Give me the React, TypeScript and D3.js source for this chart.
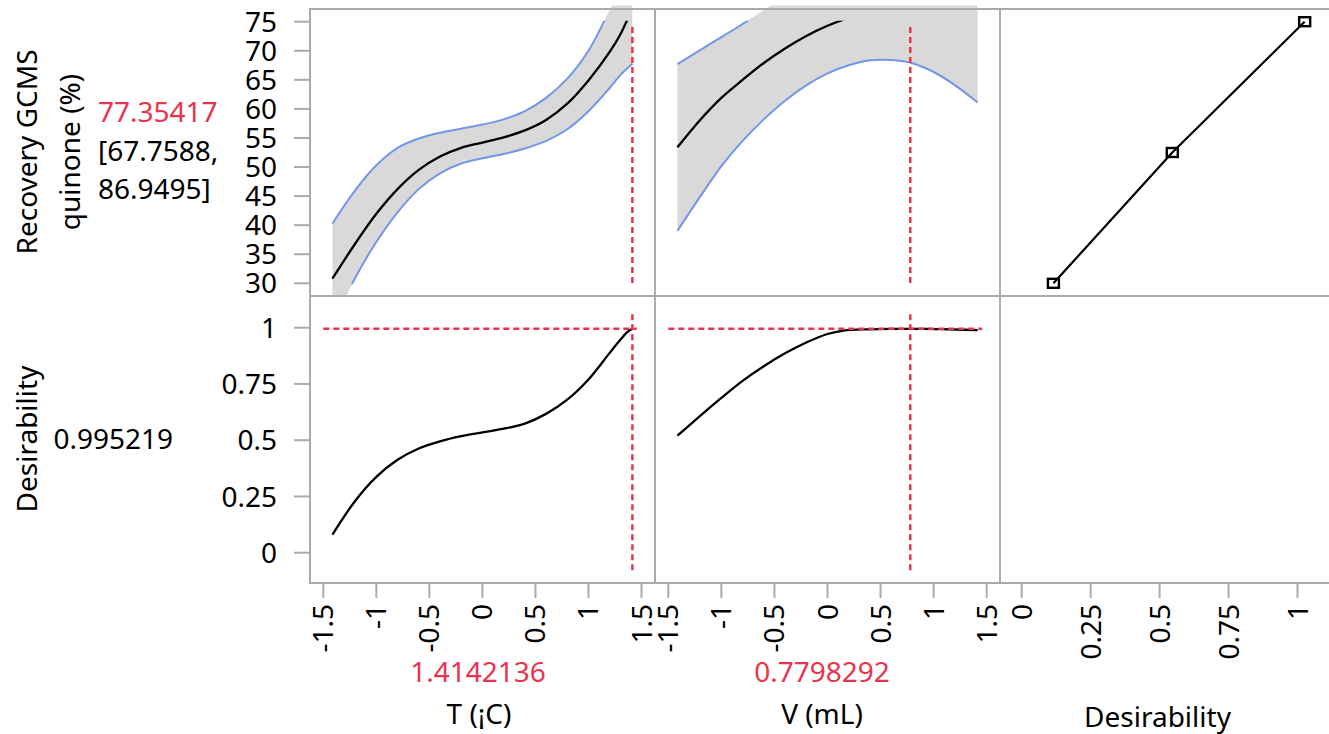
import React from "react";
import * as d3 from "d3";

// ---------- data ----------
const T_X = [-1.414, -1.2, -1.0, -0.8, -0.6, -0.4, -0.2, 0, 0.2, 0.4, 0.6, 0.8, 1.0, 1.2, 1.3, 1.414];
const T_PRED = [30.8, 36.8, 41.95, 46.2, 49.5, 51.8, 53.3, 54.2, 55.1, 56.3, 58.1, 60.9, 64.9, 69.8, 72.8, 77.35];
const T_LOWER = [22.5, 30.9, 37.1, 42.2, 46.2, 48.9, 50.6, 51.5, 52.25, 53.2, 54.5, 56.5, 59.6, 63.6, 65.8, 67.76];
const T_UPPER = [40.3, 46.0, 50.3, 53.3, 54.9, 55.9, 56.6, 57.3, 58.2, 59.6, 61.9, 65.2, 70.0, 77.0, 80.5, 86.95];

const V_X = [-1.414, -1.2, -1.0, -0.8, -0.6, -0.4, -0.2, 0, 0.2, 0.4, 0.6, 0.8, 1.0, 1.2, 1.414];
const V_PRED = [53.4, 58.1, 61.9, 65.0, 67.9, 70.4, 72.55, 74.3, 75.65, 76.6, 77.2, 77.35, 77.1, 76.5, 75.4];
const V_LOWER = [39.0, 44.9, 50.15, 54.5, 58.2, 61.4, 64.05, 66.1, 67.5, 68.35, 68.4, 67.85, 66.35, 64.1, 61.1];
const V_UPPER = [67.7, 70.1, 72.35, 74.6, 77.0, 79.4, 81.05, 82.5, 83.8, 84.85, 86.0, 86.85, 87.85, 88.9, 89.7];

const DT_X = [-1.414, -1.2, -1.0, -0.8, -0.6, -0.4, -0.2, 0, 0.2, 0.4, 0.6, 0.8, 1.0, 1.2, 1.3, 1.36, 1.414];
const DT_D = [0.08, 0.23, 0.337, 0.413, 0.463, 0.495, 0.518, 0.535, 0.551, 0.574, 0.617, 0.68, 0.77, 0.888, 0.946, 0.978, 0.995];

const DV_X = [-1.414, -1.2, -1.0, -0.8, -0.6, -0.4, -0.2, 0, 0.15, 0.4, 0.6, 0.8, 1.0, 1.2, 1.414];
const DV_D = [0.52, 0.608, 0.688, 0.764, 0.829, 0.886, 0.934, 0.972, 0.987, 0.993, 0.995, 0.995, 0.994, 0.992, 0.989];

const DES_D = [0.115, 0.546, 1.026];
const DES_Y = [30, 52.5, 75];

const T_CUR = 1.4142136;
const V_CUR = 0.7798292;
const D_CUR = 0.995219;
const PRED_CUR = "77.35417";
const CI_LINES = ["[67.7588,", "86.9495]"];

const X_TICKS = [-1.5, -1, -0.5, 0, 0.5, 1, 1.5];
const X_TICK_LABELS = ["-1.5", "-1", "-0.5", "0", "0.5", "1", "1.5"];
const Y_TICKS = [30, 35, 40, 45, 50, 55, 60, 65, 70, 75];
const D_TICKS = [0, 0.25, 0.5, 0.75, 1];
const D_TICK_LABELS = ["0", "0.25", "0.5", "0.75", "1"];

// ---------- layout ----------
const W = 1329;
const H = 734;
const FONT = "'Noto Sans', 'Open Sans', sans-serif";
const FS = 28;
const GRID = "#ababab";
const BAND = "#d9d9d9";
const BLUE = "#7197e6";
const RED = "#e8344e";

const xL = 310, xM1 = 655, xM2 = 1000, xR = 1329;
const yT = 9, yM = 296, yB = 583;

const xT = d3.scaleLinear().domain([-1.5, 1.5]).range([323.3, 641.5]);
const xV = d3.scaleLinear().domain([-1.5, 1.5]).range([668.3, 986.7]);
const xD = d3.scaleLinear().domain([0, 1]).range([1021.7, 1297.5]);
const yTop = d3.scaleLinear().domain([30, 75]).range([283.3, 21.7]);
const yBot = d3.scaleLinear().domain([0, 1]).range([552.7, 327.7]);

const zip = (xs: number[], ys: number[]) => xs.map((x, i) => [x, ys[i]] as [number, number]);
const CURVE = d3.curveCatmullRom.alpha(0.5);

export default function App() {
  const lineT = d3.line<[number, number]>().x(d => xT(d[0])).y(d => yTop(d[1])).curve(CURVE);
  const lineV = d3.line<[number, number]>().x(d => xV(d[0])).y(d => yTop(d[1])).curve(CURVE);
  const lineDT = d3.line<[number, number]>().x(d => xT(d[0])).y(d => yBot(d[1])).curve(CURVE);
  const lineDV = d3.line<[number, number]>().x(d => xV(d[0])).y(d => yBot(d[1])).curve(CURVE);
  const areaT = d3.area<number>().x((_, i) => xT(T_X[i])).y0((_, i) => yTop(T_LOWER[i])).y1((_, i) => yTop(T_UPPER[i])).curve(CURVE);
  const areaV = d3.area<number>().x((_, i) => xV(V_X[i])).y0((_, i) => yTop(V_LOWER[i])).y1((_, i) => yTop(V_UPPER[i])).curve(CURVE);
  const lineDes = d3.line<[number, number]>().x(d => xD(d[0])).y(d => yTop(d[1]));

  const yLo = yTop(75), yHi = yTop(30);

  return (
    <svg width={W} height={H} style={{ position: "absolute", left: 0, top: 0, background: "#fff" }} fontFamily={FONT}>
      <defs>
        <clipPath id="bandT"><rect x={xL} y={5.5} width={xM1 - xL} height={yM - 5.5} /></clipPath>
        <clipPath id="bandV"><rect x={xM1} y={5.5} width={xM2 - xM1} height={yM - 5.5} /></clipPath>
        <clipPath id="linesTop"><rect x={xL} y={yLo - 1} width={xM2 - xL} height={yHi - yLo + 2} /></clipPath>
      </defs>

      {/* confidence bands */}
      <path d={areaT(T_X) || ""} fill={BAND} clipPath="url(#bandT)" />
      <path d={areaV(V_X) || ""} fill={BAND} clipPath="url(#bandV)" />

      {/* frame */}
      <g stroke={GRID} strokeWidth={2} fill="none">
        <line x1={xL - 1} x2={xR} y1={yT} y2={yT} />
        <line x1={xL} x2={xR} y1={yM} y2={yM} />
        <line x1={xL - 1} x2={xR} y1={yB} y2={yB} />
        <line x1={xL} x2={xL} y1={yT} y2={yB} />
        <line x1={xM1} x2={xM1} y1={yT} y2={yB} />
        <line x1={xM2} x2={xM2} y1={yT} y2={yB} />
        {Y_TICKS.map(v => <line key={"yt" + v} x1={294} x2={xL} y1={yTop(v)} y2={yTop(v)} />)}
        {D_TICKS.map(v => <line key={"yd" + v} x1={294} x2={xL} y1={yBot(v)} y2={yBot(v)} />)}
        {X_TICKS.map(v => <line key={"xt" + v} x1={xT(v)} x2={xT(v)} y1={yB} y2={598} />)}
        {X_TICKS.map(v => <line key={"xv" + v} x1={xV(v)} x2={xV(v)} y1={yB} y2={598} />)}
        {D_TICKS.map(v => <line key={"xd" + v} x1={xD(v)} x2={xD(v)} y1={yB} y2={598} />)}
      </g>

      {/* top row curves */}
      <g clipPath="url(#linesTop)" fill="none">
        <path d={lineT(zip(T_X, T_LOWER)) || ""} stroke={BLUE} strokeWidth={2} />
        <path d={lineT(zip(T_X, T_UPPER)) || ""} stroke={BLUE} strokeWidth={2} />
        <path d={lineT(zip(T_X, T_PRED)) || ""} stroke="#000" strokeWidth={2.3} />
        <path d={lineV(zip(V_X, V_LOWER)) || ""} stroke={BLUE} strokeWidth={2} />
        <path d={lineV(zip(V_X, V_UPPER)) || ""} stroke={BLUE} strokeWidth={2} />
        <path d={lineV(zip(V_X, V_PRED)) || ""} stroke="#000" strokeWidth={2.3} />
      </g>

      {/* bottom row curves */}
      <path d={lineDT(zip(DT_X, DT_D)) || ""} fill="none" stroke="#000" strokeWidth={2.3} />
      <path d={lineDV(zip(DV_X, DV_D)) || ""} fill="none" stroke="#000" strokeWidth={2.3} />

      {/* desirability function */}
      <path d={lineDes(zip(DES_D, DES_Y)) || ""} fill="none" stroke="#000" strokeWidth={2.2} />
      {DES_D.map((d, i) => (
        <rect key={"sq" + i} x={xD(d) - 5.5} y={yTop(DES_Y[i]) - 4.5} width={11} height={9} fill="none" stroke="#000" strokeWidth={2.4} />
      ))}

      {/* current-value reference lines */}
      <g stroke={RED} strokeWidth={2.5} strokeDasharray="6,4" fill="none">
        <line x1={xT(T_CUR)} x2={xT(T_CUR)} y1={yTop(74.1)} y2={yTop(30)} />
        <line x1={xV(V_CUR)} x2={xV(V_CUR)} y1={yTop(74.1)} y2={yTop(30)} />
        <line x1={xT(T_CUR)} x2={xT(T_CUR)} y1={yBot(1.06)} y2={yBot(-0.08)} />
        <line x1={xV(V_CUR)} x2={xV(V_CUR)} y1={yBot(1.06)} y2={yBot(-0.08)} />
        <line x1={xT(-1.5)} x2={xT(1.455)} y1={yBot(D_CUR)} y2={yBot(D_CUR)} />
        <line x1={xV(-1.5)} x2={xV(1.457)} y1={yBot(D_CUR)} y2={yBot(D_CUR)} />
      </g>

      {/* y tick labels */}
      <g fontSize={FS} fill="#000" textAnchor="end">
        {Y_TICKS.map(v => <text key={"ytl" + v} x={277} y={yTop(v)} dy="0.36em">{v}</text>)}
        {D_TICKS.map((v, i) => <text key={"ydl" + v} x={277} y={yBot(v)} dy="0.36em">{D_TICK_LABELS[i]}</text>)}
      </g>

      {/* x tick labels (rotated) */}
      <g fontSize={FS} fill="#000" textAnchor="end">
        {X_TICKS.map((v, i) => (
          <text key={"xtl" + v} transform={`translate(${xT(v) + 10},604) rotate(-90)`}>{X_TICK_LABELS[i]}</text>
        ))}
        {X_TICKS.map((v, i) => (
          <text key={"xvl" + v} transform={`translate(${xV(v) + 10},604) rotate(-90)`}>{X_TICK_LABELS[i]}</text>
        ))}
        {D_TICKS.map((v, i) => (
          <text key={"xdl" + v} transform={`translate(${xD(v) + 10},604) rotate(-90)`}>{D_TICK_LABELS[i]}</text>
        ))}
      </g>

      {/* left titles and values */}
      <g fontSize={FS} fill="#000">
        <text transform="translate(37,152) rotate(-90)" textAnchor="middle">Recovery GCMS</text>
        <text transform="translate(80,152) rotate(-90)" textAnchor="middle">quinone (%)</text>
        <text transform="translate(37,439) rotate(-90)" textAnchor="middle">Desirability</text>
        <text x={98} y={122} fill={RED}>{PRED_CUR}</text>
        <text x={98} y={160.5}>{CI_LINES[0]}</text>
        <text x={98} y={199}>{CI_LINES[1]}</text>
        <text x={173} y={448.7} textAnchor="end">{D_CUR}</text>
      </g>

      {/* bottom values and titles */}
      <g fontSize={FS} textAnchor="middle">
        <text x={478} y={681.7} fill={RED}>{T_CUR.toFixed(7)}</text>
        <text x={822} y={681.7} fill={RED}>{V_CUR.toFixed(7)}</text>
        <text x={479} y={723.5} fill="#000">T (¡C)</text>
        <text x={822} y={723.5} fill="#000">V (mL)</text>
        <text x={1157.5} y={726.7} fill="#000">Desirability</text>
      </g>
    </svg>
  );
}
